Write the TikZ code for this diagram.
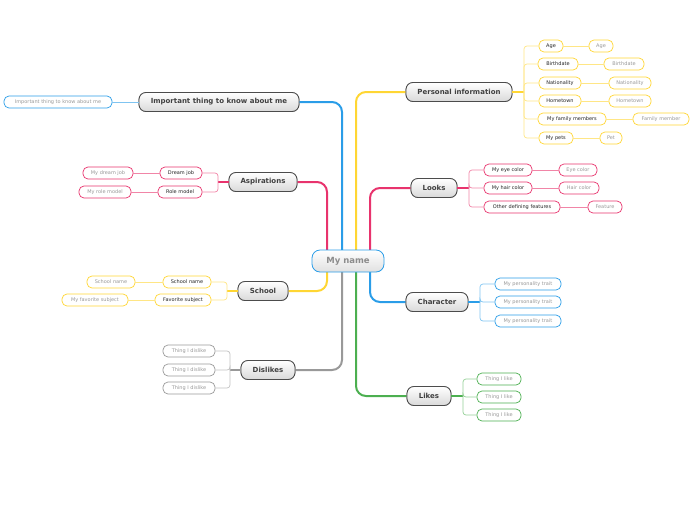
\documentclass[tikz,border=0pt]{standalone}
\usepackage{fontspec}
\setmainfont{DejaVu Sans}
\begin{document}
\begin{tikzpicture}[x=1pt,y=-1pt,
  main/.style={draw=black!70,line width=0.8pt,rounded corners=7pt,top color=white,bottom color=black!15,minimum height=19pt,inner sep=0pt,font=\fontsize{7}{8}\selectfont\bfseries,text=black!75},
  ch/.style={draw=#1,line width=0.7pt,rounded corners=5pt,fill=white,minimum height=12pt,inner sep=0pt,font=\fontsize{5}{6}\selectfont,text=black!85},
  gc/.style={ch=#1,text=black!40},
  br/.style={draw=#1,line width=2pt,rounded corners=10pt},
  ln/.style={draw=#1!60,line width=0.7pt,rounded corners=3pt}]
\definecolor{cy}{HTML}{FFD633}
\definecolor{cp}{HTML}{E8336D}
\definecolor{cb}{HTML}{2A9DE8}
\definecolor{cg}{HTML}{4CAF50}
\definecolor{cgr}{HTML}{999999}
\useasboundingbox (0,0) rectangle (696,520);
% branches (drawn first)
\coordinate (ry) at (356,261);\coordinate (rp) at (370,261);\coordinate (rb) at (342,261);\coordinate (rp2) at (327,261);
\node[main,minimum width=106pt] (pi) at (459,92) {Personal information};
\node[main,minimum width=46pt] (lo) at (434,188) {Looks};
\node[main,minimum width=62pt] (cha) at (437,302) {Character};
\node[main,minimum width=44pt] (li) at (429,396) {Likes};
\node[main,minimum width=160pt] (im) at (219,102) {Important thing to know about me};
\node[main,minimum width=68pt] (as) at (263,182) {Aspirations};
\node[main,minimum width=50pt] (sc) at (263,291) {School};
\node[main,minimum width=54pt] (di) at (268,370) {Dislikes};
\begin{scope}[on background layer/.style={}]
\path[br=cy] (ry) |- (pi.west);
\path[br=cp] (rp) |- (lo.west);
\path[br=cb] (rp) |- (cha.west);
\path[br=cg] (ry) |- (li.west);
\path[br=cb] (rb) |- (im.east);
\path[br=cp] (rp2) |- (as.east);
\path[br=cy] (rp2) |- (sc.east);
\path[br=cgr] (rb) |- (di.east);
\end{scope}
\node[draw=cb,line width=0.8pt,rounded corners=8pt,top color=white,bottom color=black!12,minimum width=72pt,minimum height=22pt,font=\fontsize{8.5}{9}\selectfont\bfseries,text=black!45] (root) at (348,261) {My name};
% redraw main nodes on top
\foreach \n/\x/\y/\w/\t in {pi/459/92/106/Personal information,lo/434/188/46/Looks,cha/437/302/62/Character,li/429/396/44/Likes,im/219/102/160/Important thing to know about me,as/263/182/68/Aspirations,sc/263/291/50/School,di/268/370/54/Dislikes}
  \node[main,minimum width=\w pt] at (\x,\y) {\t};
% Personal information
\coordinate (bpi) at (524,92);
\draw[cy,line width=1.5pt] (pi.east) -- (bpi);
\foreach \i/\y/\a/\wa/\ta/\b/\wb/\tb in {1/46/551/24/Age/601/24/Age,2/64/558/40/Birthdate/624/40/Birthdate,3/83/560/42/Nationality/630/42/Nationality,4/101/560/42/Hometown/630/42/Hometown,5/119/572/68/My family members/661/56/Family member,6/138/556/34/My pets/611/22/Pet}{
  \node[ch=cy,minimum width=\wa pt] (pa\i) at (\a,\y) {\ta};
  \node[gc=cy,minimum width=\wb pt] (pb\i) at (\b,\y) {\tb};
  \path[ln=cy] (bpi) |- (pa\i.west);
  \path[ln=cy] (pa\i.east) -- (pb\i.west);}
% Looks
\coordinate (blo) at (469,188);
\draw[cp,line width=1.5pt] (lo.east) -- (blo);
\foreach \i/\y/\a/\wa/\ta/\b/\wb/\tb in {1/170/508/48/My eye color/578/38/Eye color,2/188/508/48/My hair color/579/40/Hair color,3/207/522/76/Other defining features/605/34/Feature}{
  \node[ch=cp,minimum width=\wa pt] (la\i) at (\a,\y) {\ta};
  \node[gc=cp,minimum width=\wb pt] (lb\i) at (\b,\y) {\tb};
  \path[ln=cp] (blo) |- (la\i.west);
  \path[ln=cp] (la\i.east) -- (lb\i.west);}
% Character
\coordinate (bch) at (480,302);
\draw[cb,line width=1.5pt] (cha.east) -- (bch);
\foreach \i/\y in {1/284,2/302,3/321}{
  \node[gc=cb,minimum width=66pt] (ca\i) at (528,\y) {My personality trait};
  \path[ln=cb] (bch) |- (ca\i.west);}
% Likes
\coordinate (bli) at (463,396);
\draw[cg,line width=1.5pt] (li.east) -- (bli);
\foreach \i/\y in {1/379,2/397,3/415}{
  \node[gc=cg,minimum width=44pt] (ka\i) at (499,\y) {Thing I like};
  \path[ln=cg] (bli) |- (ka\i.west);}
% Important
\node[gc=cb,minimum width=108pt] (ima) at (58,102) {Important thing to know about me};
\path[ln=cb] (im.west) -- (ima.east);
% Aspirations
\coordinate (bas) at (218,182);
\draw[cp,line width=1.5pt] (as.west) -- (bas);
\foreach \i/\y/\a/\wa/\ta/\b/\wb/\tb in {1/173/181/42/Dream job/108/50/My dream job,2/192/180/44/Role model/105/52/My role model}{
  \node[ch=cp,minimum width=\wa pt] (aa\i) at (\a,\y) {\ta};
  \node[gc=cp,minimum width=\wb pt] (ab\i) at (\b,\y) {\tb};
  \path[ln=cp] (bas) |- (aa\i.east);
  \path[ln=cp] (aa\i.west) -- (ab\i.east);}
% School
\coordinate (bsc) at (227,291);
\draw[cy,line width=1.5pt] (sc.west) -- (bsc);
\foreach \i/\y/\a/\wa/\ta/\b/\wb/\tb in {1/282/187/48/School name/111/48/School name,2/300/183/56/Favorite subject/95/66/My favorite subject}{
  \node[ch=cy,minimum width=\wa pt] (sa\i) at (\a,\y) {\ta};
  \node[gc=cy,minimum width=\wb pt] (sb\i) at (\b,\y) {\tb};
  \path[ln=cy] (bsc) |- (sa\i.east);
  \path[ln=cy] (sa\i.west) -- (sb\i.east);}
% Dislikes
\coordinate (bdi) at (230,370);
\draw[cgr,line width=1.5pt] (di.west) -- (bdi);
\foreach \i/\y in {1/351,2/370,3/388}{
  \node[gc=cgr,minimum width=52pt] (da\i) at (189,\y) {Thing I dislike};
  \path[ln=cgr] (bdi) |- (da\i.east);}
\end{tikzpicture}
\end{document}
